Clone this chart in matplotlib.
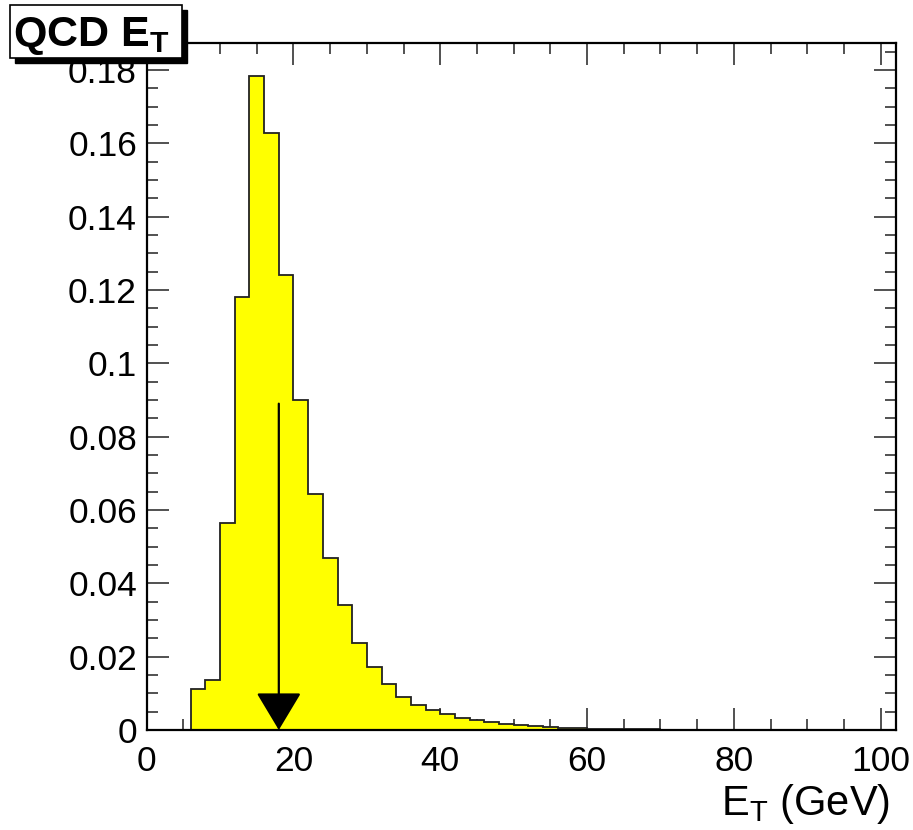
import numpy as np
import matplotlib
matplotlib.use("Agg")
import matplotlib.pyplot as plt
from matplotlib.patches import Rectangle
from matplotlib.ticker import MultipleLocator, FixedLocator

plt.rcParams['font.family'] = ['Liberation Sans', 'DejaVu Sans']
plt.rcParams['mathtext.fontset'] = 'custom'
plt.rcParams['mathtext.rm'] = 'Liberation Sans'
plt.rcParams['mathtext.it'] = 'Liberation Sans'
plt.rcParams['mathtext.bf'] = 'Liberation Sans:bold'

# ---- data ----
bin_edges = [6, 8, 10, 12, 14, 16, 18, 20, 22, 24, 26, 28, 30, 32, 34, 36, 38, 40,
             42, 44, 46, 48, 50, 52, 54, 56, 58, 60, 62, 64, 66, 68, 70, 72, 74,
             76, 78, 80, 82, 84, 86, 88, 90, 92, 94, 96, 98, 100]
bin_values = [0.0112, 0.0136, 0.0565, 0.1182, 0.1785, 0.1627, 0.1241, 0.0900,
              0.0645, 0.0470, 0.0341, 0.0238, 0.0173, 0.0125, 0.0091, 0.0068,
              0.0055, 0.0045, 0.0034, 0.0027, 0.0021, 0.0017, 0.0013, 0.0010,
              0.0008, 0.0006, 0.0005, 0.0004, 0.0003, 0.00025, 0.0002, 0.00015,
              0.00012, 0.0001, 0.00008, 0.00007, 0.00006, 0.00005, 0.00004,
              0.00003, 0.00002, 0.00002, 0.00001, 0.00001, 0.00001, 0.0, 0.0]
cut_value = 18.0
arrow_top = 0.089
x_ticks = [0, 20, 40, 60, 80, 100]
x_tick_labels = ["0", "20", "40", "60", "80", "100"]
y_ticks = [0, 0.02, 0.04, 0.06, 0.08, 0.1, 0.12, 0.14, 0.16, 0.18]
y_tick_labels = ["0", "0.02", "0.04", "0.06", "0.08", "0.1", "0.12", "0.14", "0.16", "0.18"]
title_text = "QCD E$_\\mathregular{T}$"
x_label = "E$_\\mathregular{T}$ (GeV)"

W, H = 913, 830
fig = plt.figure(figsize=(W / 100, H / 100), dpi=100)
ax = fig.add_axes([146.7 / W, 1 - 730 / H, (895.7 - 146.7) / W, (730 - 42.7) / H])

ax.stairs(bin_values, bin_edges, fill=True, color='#ffff00', zorder=2)
ax.stairs(bin_values, bin_edges, fill=False, color='#222222', lw=1.3, zorder=3)

ax.annotate('', xy=(cut_value, 0), xytext=(cut_value, arrow_top),
            arrowprops=dict(arrowstyle='-|>,head_length=1.0,head_width=0.6',
                            mutation_scale=24, color='black', lw=1.6,
                            shrinkA=0, shrinkB=0), zorder=5)

ax.set_xlim(0, 102.05)
ax.set_ylim(0, 0.18745)

ax.xaxis.set_major_locator(FixedLocator(x_ticks))
ax.set_xticklabels(x_tick_labels)
ax.xaxis.set_minor_locator(MultipleLocator(5))
ax.yaxis.set_major_locator(FixedLocator(y_ticks))
ax.set_yticklabels(y_tick_labels)
ax.yaxis.set_minor_locator(MultipleLocator(0.005))

ax.tick_params(which='both', direction='in', top=True, right=True,
               width=1.2, color='#333333', labelsize=25.5)
ax.tick_params(which='major', length=16)
ax.tick_params(which='minor', length=8)
ax.tick_params(axis='x', which='major', pad=11)
ax.tick_params(axis='y', which='major', pad=7)
for s in ax.spines.values():
    s.set_linewidth(1.6)
    s.set_color('black')
    s.set_zorder(6)

fig.text(890 / W, 1 - 815 / H, x_label, ha='right', va='baseline', fontsize=30)

# title box with shadow
bx0, by0, bx1, by1 = 10, 5, 182, 58
fig.patches.append(Rectangle(((bx0 + 5) / W, 1 - (by1 + 5) / H), (bx1 - bx0) / W, (by1 - by0) / H,
                             transform=fig.transFigure, facecolor='black', edgecolor='black', zorder=9))
fig.patches.append(Rectangle((bx0 / W, 1 - by1 / H), (bx1 - bx0) / W, (by1 - by0) / H,
                             transform=fig.transFigure, facecolor='white', edgecolor='black', lw=1.2, zorder=10))
fig.text(13 / W, 1 - 46 / H, title_text, ha='left', va='baseline', fontsize=31,
         fontweight='bold', zorder=11)

fig.savefig('out.png', dpi=100)
